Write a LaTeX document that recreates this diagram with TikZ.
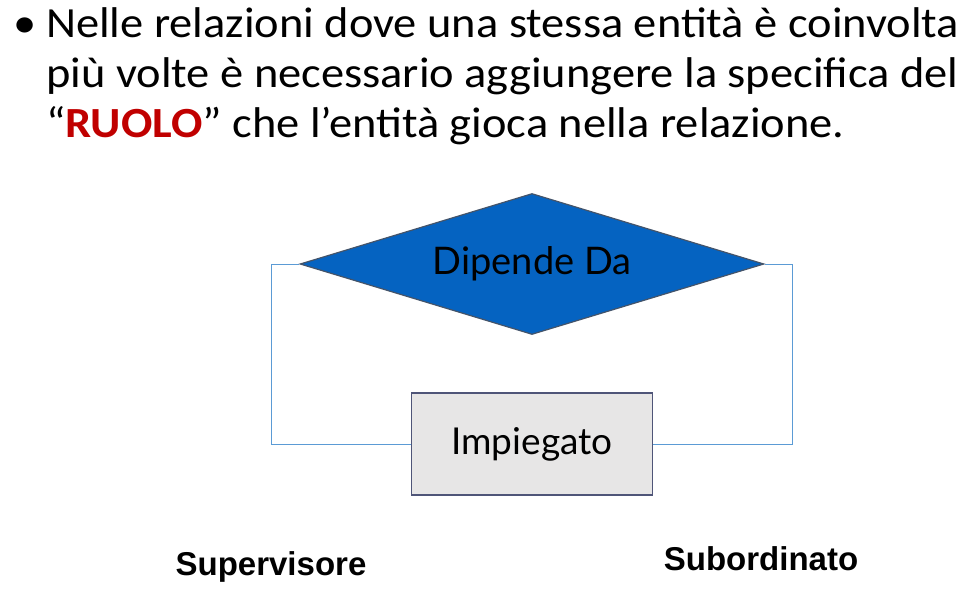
\documentclass[tikz,border=0pt]{standalone}
\usepackage{fontspec}
\setmainfont{Carlito}
\newfontfamily\titlefont[FakeStretch=1.08]{Carlito}
\newfontfamily\erfont{Lato}
\newfontfamily\rolefont{Liberation Sans}
\usetikzlibrary{shapes.geometric, positioning}
\definecolor{relblue}{HTML}{0563C1}
\definecolor{relborder}{HTML}{44546A}
\definecolor{entfill}{HTML}{E7E6E6}
\definecolor{entborder}{HTML}{4F5578}
\definecolor{linkblue}{HTML}{5B9BD5}
\definecolor{ruolored}{HTML}{C00000}

\begin{document}
\begin{tikzpicture}[x=1pt, y=-1pt, node distance=60pt,
	relation/.style={diamond, aspect=3.29, minimum width=464pt, minimum height=141pt, inner sep=0pt, fill=relblue, draw=relborder, line width=1.2pt, font=\erfont\fontsize{38}{44}\selectfont},
	entity/.style={rectangle, minimum width=241pt, minimum height=102pt, fill=entfill, draw=entborder, line width=1.2pt, font=\erfont\fontsize{37}{44}\selectfont},
	role/.style={font=\rolefont\bfseries\fontsize{33}{38}\selectfont},
	bullettext/.style={anchor=base west, inner sep=0pt, font=\titlefont\fontsize{43}{43}\selectfont},
	link/.style={draw=linkblue, line width=0.8pt}]
	\useasboundingbox (0,0) rectangle (980,597);
	\node[bullettext] (dot) at (13,37) {\textbullet};
	\node[bullettext] (line1) at (46,37) {Nelle relazioni dove una stessa entità è coinvolta};
	\node[bullettext] (line2) at (46,87) {più volte è necessario aggiungere la specifica del};
	\node[bullettext] (line3) at (46,137) {“\textcolor{ruolored}{\textbf{RUOLO}}” che l’entità gioca nella relazione.};
	\node[relation] (dip) at (532,264) {Dipende Da};
	\node[entity] (imp) at (532,444) {\raisebox{-3pt}{Impiegato}};
	\node[role, anchor=base] (sup) at (271,575) {Supervisore};
	\node[role, anchor=base] (sub) at (761,570) {Subordinato};
	\draw[link] (dip.west) -- ++(-28,0) |- (imp.west);
	\draw[link] (dip.east) -- ++(28,0) |- (imp.east);
\end{tikzpicture}
\end{document}
